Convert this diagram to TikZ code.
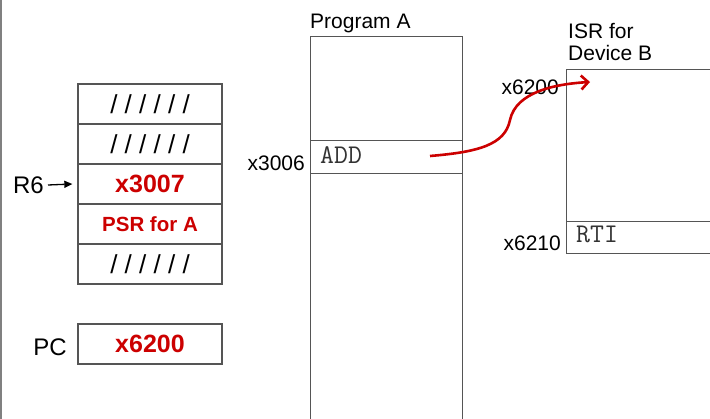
\documentclass[tikz,border=0pt]{standalone}
\usepackage{fontspec}
\setmainfont{Liberation Sans}
\usetikzlibrary{arrows.meta}
\definecolor{rd}{HTML}{CC0000}
\definecolor{ln}{HTML}{555555}
\definecolor{cd}{HTML}{333333}
\newcommand\lblf{\fontsize{21pt}{25pt}\selectfont}
\newcommand\regf{\fontsize{24pt}{28pt}\selectfont}
\newcommand\valf{\fontsize{25pt}{29pt}\selectfont\bfseries}
\newcommand\psrf{\fontsize{20.5pt}{24pt}\selectfont\bfseries}
\newcommand\slf{\fontsize{26pt}{30pt}\selectfont}
\newcommand\codef{\fontsize{27pt}{31pt}\selectfont\ttfamily}
\begin{document}
\begin{tikzpicture}[x=1pt,y=-1pt,
  cell/.style={draw=ln,line width=1.3pt,minimum width=144pt,minimum height=40pt,inner sep=0pt,anchor=center},
  membox/.style={draw=ln,line width=1.3pt,inner sep=0pt},
  lbl/.style={inner sep=0pt,font=\lblf},
  codetxt/.style={inner sep=0pt,font=\codef,text=cd},
  redval/.style={text=rd,font=\valf}]
\useasboundingbox (0,0) rectangle (710,419);
\clip (0,0) rectangle (710,419);
\fill[white] (0,0) rectangle (710,419);
% left border line
\draw[draw=gray,line width=1.5pt] (1,-2) -- (1,425);
% stack
\node[cell] (s1) at (150,104) {\slf / / / / / /};
\node[cell] (s2) at (150,144) {\slf / / / / / /};
\node[cell,redval] (s3) at (150,184) {x3007};
\node[cell,text=rd,font=\psrf] (s4) at (150,224) {PSR for A};
\node[cell] (s5) at (150,264) {\slf / / / / / /};
\node[inner sep=0pt,font=\regf,anchor=east] (r6) at (44,185) {R6};
\draw[-{Triangle[length=8pt,width=7pt]},line width=1.3pt] (r6.east) ++(4,0) coordinate (r6a) (r6a) -- ([xshift=-5pt]s3.west);
% PC
\node[cell,redval] (pc) at (150,344) {x6200};
\node[inner sep=0pt,font=\regf,anchor=east] (pclbl) at (67,347) {PC};
% Program A
\node[membox,minimum width=151.7pt,minimum height=400pt,anchor=north west] (prog) at (310,36) {};
\node[membox,minimum width=151.7pt,minimum height=32.7pt,anchor=north west] (addrow) at (310,140) {};
\node[codetxt,anchor=base west] (add) at (320,164) {ADD};
\node[lbl,anchor=base west] (progl) at (310,29) {Program A};
\node[lbl,anchor=base east] (a3006) at (305,171) {x3006};
% ISR
\node[membox,minimum width=170pt,minimum height=184pt,anchor=north west] (isr) at (566,68.7) {};
\node[membox,minimum width=170pt,minimum height=32pt,anchor=north west] (rtirow) at (566,220.7) {};
\node[codetxt,anchor=base west] (rti) at (576,243) {RTI};
\node[lbl,anchor=base west] (isr1) at (568,38.5) {ISR for};
\node[lbl,anchor=base west] (isr2) at (568,60.7) {Device B};
\node[lbl,anchor=base east] (a6200) at (559,95) {x6200};
\node[lbl,anchor=base east] (a6210) at (561,251) {x6210};
% red arrow
\coordinate (from) at (430,156);
\coordinate (to) at (590,82);
\draw[rd,line width=2.6pt,-{Straight Barb[length=7pt,width=14pt]}] (from) .. controls (478,152) and (505,145) .. (510,120) .. controls (516,92) and (555,84) .. (to);
\end{tikzpicture}
\end{document}
